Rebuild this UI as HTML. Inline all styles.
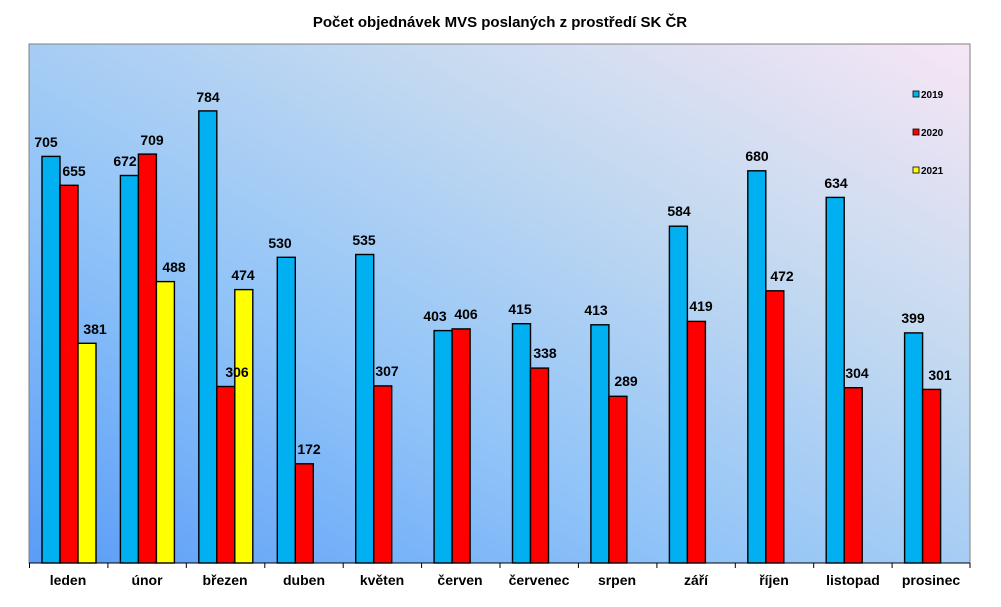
<!DOCTYPE html>
<html><head><meta charset="utf-8"><style>
html,body{margin:0;padding:0;background:#fff;}
svg{display:block;font-family:"Liberation Sans",Arial,sans-serif;}
.l{font-size:14px;font-weight:bold;text-anchor:middle;fill:#000;}
.c{font-size:14px;font-weight:bold;text-anchor:middle;fill:#000;}
.g{font-size:10px;font-weight:bold;fill:#000;}
</style></head><body>
<svg width="1001" height="607" viewBox="0 0 1001 607">
<defs>
<linearGradient id="bg" x1="0" y1="1" x2="1" y2="0">
<stop offset="0" stop-color="#5a9cf7"/>
<stop offset="0.35" stop-color="#8fc3f8"/>
<stop offset="0.7" stop-color="#c6daf0"/>
<stop offset="1" stop-color="#f7e6f5"/>
</linearGradient>
</defs>
<rect width="1001" height="607" fill="#fff"/>
<text x="500" y="27" style="font-size:15px;font-weight:bold;text-anchor:middle">Počet objednávek MVS poslaných z prostředí SK ČR</text>
<rect x="29" y="44" width="941" height="519" fill="url(#bg)" stroke="#808080" stroke-width="1"/>
<g stroke="#000" stroke-width="1.4">
<rect x="42" y="156.4" width="18" height="406.6" fill="#00b0f0"/>
<rect x="60" y="185.3" width="18" height="377.7" fill="#ff0000"/>
<rect x="78" y="343.3" width="18" height="219.7" fill="#ffff00"/>
<rect x="120.4" y="175.5" width="18" height="387.5" fill="#00b0f0"/>
<rect x="138.4" y="154.1" width="18" height="408.9" fill="#ff0000"/>
<rect x="156.4" y="281.6" width="18" height="281.4" fill="#ffff00"/>
<rect x="198.8" y="110.9" width="18" height="452.1" fill="#00b0f0"/>
<rect x="216.8" y="386.5" width="18" height="176.5" fill="#ff0000"/>
<rect x="234.8" y="289.6" width="18" height="273.4" fill="#ffff00"/>
<rect x="277.3" y="257.3" width="18" height="305.7" fill="#00b0f0"/>
<rect x="295.3" y="463.8" width="18" height="99.2" fill="#ff0000"/>
<rect x="355.7" y="254.5" width="18" height="308.5" fill="#00b0f0"/>
<rect x="373.7" y="385.9" width="18" height="177.1" fill="#ff0000"/>
<rect x="434.1" y="330.6" width="18" height="232.4" fill="#00b0f0"/>
<rect x="452.1" y="328.9" width="18" height="234.1" fill="#ff0000"/>
<rect x="512.5" y="323.7" width="18" height="239.3" fill="#00b0f0"/>
<rect x="530.5" y="368.1" width="18" height="194.9" fill="#ff0000"/>
<rect x="590.9" y="324.8" width="18" height="238.2" fill="#00b0f0"/>
<rect x="608.9" y="396.3" width="18" height="166.7" fill="#ff0000"/>
<rect x="669.4" y="226.2" width="18" height="336.8" fill="#00b0f0"/>
<rect x="687.4" y="321.4" width="18" height="241.6" fill="#ff0000"/>
<rect x="747.8" y="170.8" width="18" height="392.2" fill="#00b0f0"/>
<rect x="765.8" y="290.8" width="18" height="272.2" fill="#ff0000"/>
<rect x="826.2" y="197.4" width="18" height="365.6" fill="#00b0f0"/>
<rect x="844.2" y="387.7" width="18" height="175.3" fill="#ff0000"/>
<rect x="904.6" y="332.9" width="18" height="230.1" fill="#00b0f0"/>
<rect x="922.6" y="389.4" width="18" height="173.6" fill="#ff0000"/>
</g>
<g>
<text x="46" y="147" class="l">705</text>
<text x="74" y="176" class="l">655</text>
<text x="95" y="334" class="l">381</text>
<text x="125" y="166" class="l">672</text>
<text x="152" y="145" class="l">709</text>
<text x="174" y="272" class="l">488</text>
<text x="208" y="102" class="l">784</text>
<text x="237" y="377" class="l">306</text>
<text x="243" y="280" class="l">474</text>
<text x="280" y="248" class="l">530</text>
<text x="309" y="454" class="l">172</text>
<text x="364" y="245" class="l">535</text>
<text x="387" y="376" class="l">307</text>
<text x="435" y="321" class="l">403</text>
<text x="466" y="319" class="l">406</text>
<text x="520" y="314" class="l">415</text>
<text x="545" y="358" class="l">338</text>
<text x="596" y="315" class="l">413</text>
<text x="626" y="386" class="l">289</text>
<text x="679" y="216" class="l">584</text>
<text x="701" y="311" class="l">419</text>
<text x="757" y="161" class="l">680</text>
<text x="782" y="281" class="l">472</text>
<text x="836" y="188" class="l">634</text>
<text x="857" y="378" class="l">304</text>
<text x="913" y="323" class="l">399</text>
<text x="940" y="380" class="l">301</text>
</g>
<g stroke="#000" stroke-width="1">
<line x1="29" y1="563" x2="970" y2="563"/>
<line x1="29.5" y1="563" x2="29.5" y2="568"/><line x1="107.9" y1="563" x2="107.9" y2="568"/>
<line x1="186.3" y1="563" x2="186.3" y2="568"/><line x1="264.8" y1="563" x2="264.8" y2="568"/>
<line x1="343.2" y1="563" x2="343.2" y2="568"/><line x1="421.6" y1="563" x2="421.6" y2="568"/>
<line x1="500" y1="563" x2="500" y2="568"/><line x1="578.4" y1="563" x2="578.4" y2="568"/>
<line x1="656.9" y1="563" x2="656.9" y2="568"/><line x1="735.3" y1="563" x2="735.3" y2="568"/>
<line x1="813.7" y1="563" x2="813.7" y2="568"/><line x1="892.1" y1="563" x2="892.1" y2="568"/>
<line x1="970" y1="563" x2="970" y2="568"/>
</g>
<g>
<text x="68" y="585" class="c">leden</text>
<text x="147" y="585" class="c">únor</text>
<text x="225" y="585" class="c">březen</text>
<text x="304" y="585" class="c">duben</text>
<text x="382" y="585" class="c">květen</text>
<text x="460" y="585" class="c">červen</text>
<text x="539" y="585" class="c">červenec</text>
<text x="617" y="585" class="c">srpen</text>
<text x="696" y="585" class="c">září</text>
<text x="774" y="585" class="c">říjen</text>
<text x="853" y="585" class="c">listopad</text>
<text x="931" y="585" class="c">prosinec</text>
</g>
<g stroke="#000" stroke-width="0.8">
<rect x="913" y="91" width="6" height="6" fill="#00b0f0"/>
<rect x="913" y="129" width="6" height="6" fill="#ff0000"/>
<rect x="913" y="167" width="6" height="6" fill="#ffff00"/>
</g>
<text x="921" y="98" class="g">2019</text>
<text x="921" y="136" class="g">2020</text>
<text x="921" y="174" class="g">2021</text>
</svg>
</body></html>
